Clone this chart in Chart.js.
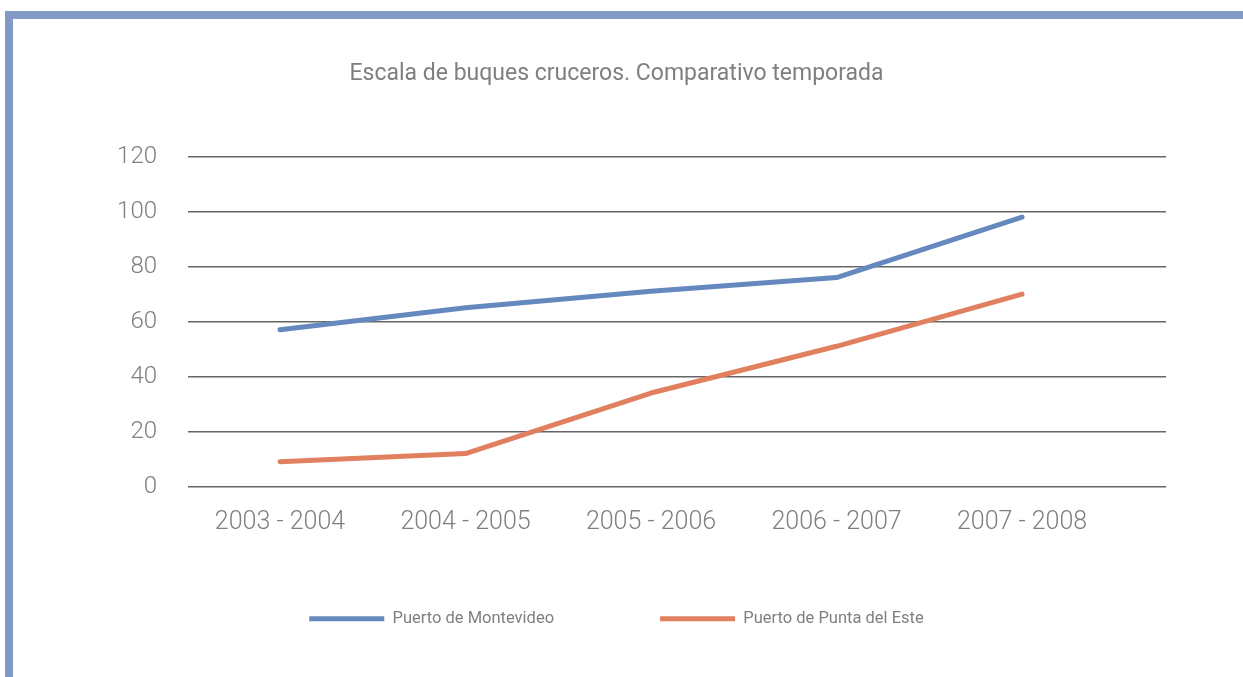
<!DOCTYPE html>
<html>
<head>
<meta charset="utf-8">
<script src="https://cdn.jsdelivr.net/npm/chart.js@4/dist/chart.umd.min.js"></script>
<style>
  html, body { margin: 0; padding: 0; background: #fff; }
  body { width: 1243px; height: 677px; position: relative; overflow: hidden; }
  #frame {
    position: absolute; left: 5px; top: 11px; right: 0; bottom: 0;
    border-left: 8px solid #829bc6; border-top: 8px solid #829bc6;
  }
  #chart { position: absolute; left: 0; top: 0; }
</style>
</head>
<body>
<div id="frame"></div>
<canvas id="chart" width="1243" height="677"></canvas>
<script>
const categories = ['2003 - 2004', '2004 - 2005', '2005 - 2006', '2006 - 2007', '2007 - 2008'];
const montevideo = [57, 65, 71, 76, 98];
const puntaDelEste = [9, 12, 34, 51, 70];
const seriesNames = ['Puerto de Montevideo', 'Puerto de Punta del Este'];
const titleText = 'Escala de buques cruceros. Comparativo temporada';

const grey = '#7f7f7f';

function toPoints(values) {
    return values.map((v, i) => ({ x: i, y: v }));
}

const ctx = document.getElementById('chart');

new Chart(ctx, {
    type: 'line',
    data: {
        datasets: [
            {
                label: seriesNames[0],
                data: toPoints(montevideo),
                borderColor: '#6589bf',
                backgroundColor: '#6589bf',
                borderWidth: 5,
                borderCapStyle: 'round',
                borderJoinStyle: 'round',
                pointRadius: 0,
                tension: 0
            },
            {
                label: seriesNames[1],
                data: toPoints(puntaDelEste),
                borderColor: '#e0805f',
                backgroundColor: '#e0805f',
                borderWidth: 5,
                borderCapStyle: 'round',
                borderJoinStyle: 'round',
                pointRadius: 0,
                tension: 0
            }
        ]
    },
    options: {
        responsive: false,
        devicePixelRatio: 1,
        animation: false,
        layout: { padding: { left: 67, right: 77, top: 0, bottom: 40 } },
        plugins: {
            tooltip: { enabled: false },
            title: {
                display: true,
                text: titleText,
                color: grey,
                font: { family: 'Roboto', size: 23, weight: 'normal' },
                padding: { top: 60, bottom: 69 }
            },
            legend: {
                position: 'bottom',
                labels: {
                    usePointStyle: true,
                    pointStyle: 'line',
                    pointStyleWidth: 75,
                    padding: 106,
                    color: grey,
                    font: { family: 'Roboto', size: 16.5 }
                }
            }
        },
        scales: {
            x: {
                type: 'linear',
                min: -0.496,
                max: 4.776,
                afterBuildTicks: s => { s.ticks = categories.map((c, i) => ({ value: i })); },
                afterFit: s => { s.height = 18; },
                grid: { display: false, drawTicks: false },
                border: { display: false },
                ticks: {
                    // mirrored so the labels are not clipped to the short axis box
                    mirror: true,
                    padding: -51,
                    maxRotation: 0,
                    color: grey,
                    font: { family: 'Roboto', size: 25, weight: 300 },
                    callback: v => categories[v]
                }
            },
            y: {
                min: 0,
                max: 120,
                afterFit: s => { s.width = 121; },
                grid: { color: '#666', lineWidth: 1.6, drawTicks: false },
                border: { display: false },
                ticks: {
                    stepSize: 20,
                    padding: 31,
                    color: grey,
                    font: { family: 'Roboto', size: 24, weight: 300 }
                }
            }
        }
    }
});
</script>
</body>
</html>
